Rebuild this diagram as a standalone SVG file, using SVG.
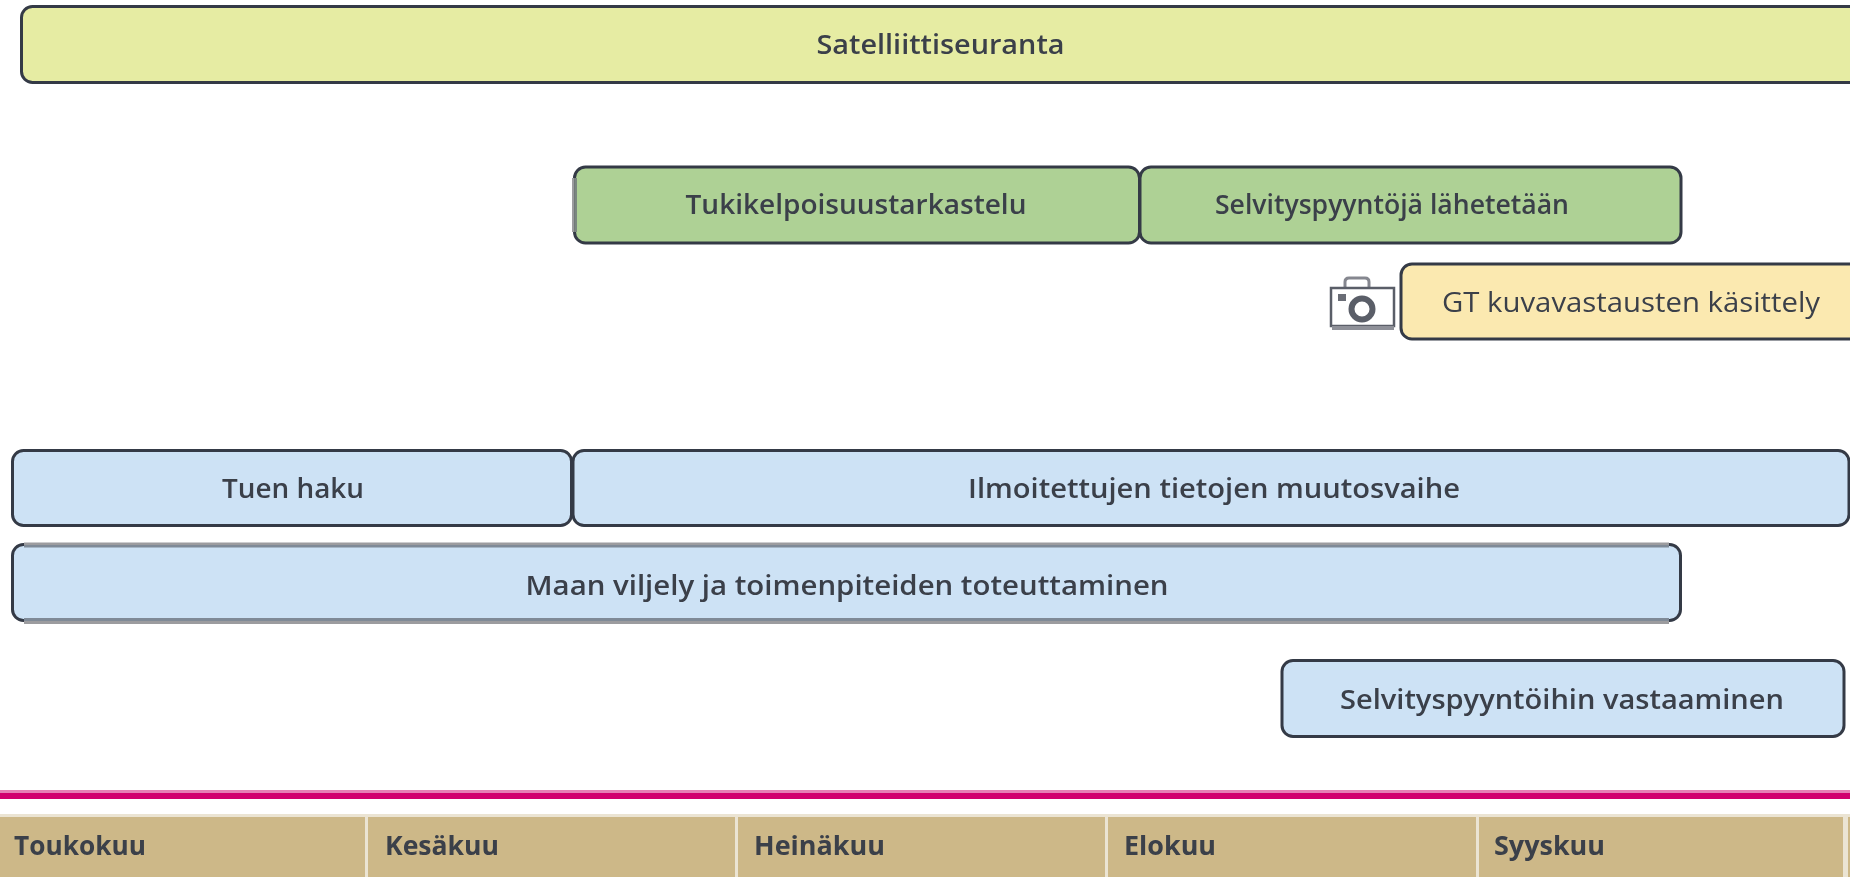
<svg xmlns="http://www.w3.org/2000/svg" width="1850" height="877" viewBox="0 0 1850 877">
<defs><filter id="soft" x="-2%" y="-20%" width="104%" height="140%"><feGaussianBlur stdDeviation="0.55"/></filter></defs>
<style>
.b{stroke:#343a46;stroke-width:3}
.y{fill:#e6eca3}.g{fill:#aed195}.o{fill:#fbe9b0}.l{fill:#cde2f5}
.e1{fill:#9c9c9f}.e2{fill:#7f8a97}
text{font-family:"Open Sans","Noto Sans","Liberation Sans",sans-serif;font-size:27px;font-weight:600;fill:#3a3f4a;text-anchor:middle;filter:url(#soft)}
.o2{font-weight:400}
.m{fill:#cdb888}.ml{fill:#ebe4d3}
text.t{text-anchor:start;font-size:27px;font-weight:700}
</style>
<rect width="1850" height="877" fill="#fff"/>
<g id="satelliittiseuranta"><rect class="b y" x="21.500" y="6.500" width="1850" height="76" rx="11"/><text x="940.500" y="54" textLength="248" lengthAdjust="spacingAndGlyphs">Satelliittiseuranta</text></g>
<g id="tukikelpoisuustarkastelu"><rect class="b g" x="574.500" y="167" width="565" height="76" rx="11"/><rect class="e1" x="572" y="178" width="2.500" height="54"/><rect x="574.500" y="178" width="2.500" height="54" fill="#7b8780"/><text x="856" y="214" textLength="341" lengthAdjust="spacingAndGlyphs">Tukikelpoisuustarkastelu</text></g>
<g id="selvityspyynnot"><rect class="b g" x="1140" y="167" width="541" height="76" rx="11"/><text x="1392" y="214" textLength="354" lengthAdjust="spacingAndGlyphs">Selvityspyyntöjä lähetetään</text></g>
<g id="kamera" fill="none" stroke="#5a5e68">
<path d="M1345 287v-5q0-4 4-4h16q4 0 4 4v5" stroke="#85878f" stroke-width="3"/>
<rect x="1331" y="288" width="63" height="38" fill="#fff" stroke-width="2.500"/>
<path d="M1332 328h62" stroke="#8e9098" stroke-width="4"/>
<rect x="1338" y="294" width="8" height="7" fill="#6a6d76" stroke="none"/>
<circle cx="1362" cy="309" r="10.500" stroke-width="6"/>
</g>
<g id="gt"><rect class="b o" x="1401" y="264" width="480" height="75" rx="11"/><text class="o2" x="1631" y="312" textLength="378" lengthAdjust="spacingAndGlyphs">GT kuvavastausten käsittely</text></g>
<g id="tuen-haku"><rect class="b l" x="12.500" y="450.500" width="559" height="75" rx="11"/><text x="293" y="498" textLength="142" lengthAdjust="spacingAndGlyphs">Tuen haku</text></g>
<g id="muutosvaihe"><rect class="b l" x="573" y="450.500" width="1276" height="75" rx="11"/><text x="1214" y="498" textLength="492" lengthAdjust="spacingAndGlyphs">Ilmoitettujen tietojen muutosvaihe</text></g>
<g id="maan-viljely"><rect class="b l" x="12.500" y="544.500" width="1668" height="76" rx="11"/><rect class="e1" x="24" y="542.500" width="1645" height="2.500"/><rect class="e2" x="24" y="545" width="1645" height="2.500"/><rect class="e2" x="24" y="618" width="1645" height="3"/><rect class="e1" x="24" y="621" width="1645" height="3"/><text x="847" y="595" textLength="643" lengthAdjust="spacingAndGlyphs">Maan viljely ja toimenpiteiden toteuttaminen</text></g>
<g id="vastaaminen"><rect class="b l" x="1282" y="660.500" width="562" height="76" rx="11"/><text x="1562" y="709" textLength="444" lengthAdjust="spacingAndGlyphs">Selvityspyyntöihin vastaaminen</text></g>
<g id="aikajana">
<rect y="790" width="1850" height="3" fill="#e67fb5"/><rect y="793" width="1850" height="6" fill="#d1006f"/>
<rect y="814" width="1850" height="63" class="m"/><rect y="814" width="1850" height="3" class="ml"/>
<g class="ml"><rect x="365" y="814" width="3" height="63"/><rect x="735" y="814" width="3" height="63"/><rect x="1105" y="814" width="3" height="63"/><rect x="1476" y="814" width="3" height="63"/><rect x="1843" y="814" width="5" height="63"/></g>
<text class="t" x="14" y="855" textLength="132" lengthAdjust="spacingAndGlyphs">Toukokuu</text><text class="t" x="385" y="855" textLength="114" lengthAdjust="spacingAndGlyphs">Kesäkuu</text><text class="t" x="754" y="855" textLength="131" lengthAdjust="spacingAndGlyphs">Heinäkuu</text><text class="t" x="1124" y="855" textLength="92" lengthAdjust="spacingAndGlyphs">Elokuu</text><text class="t" x="1494" y="855" textLength="111" lengthAdjust="spacingAndGlyphs">Syyskuu</text>
</g>
</svg>
